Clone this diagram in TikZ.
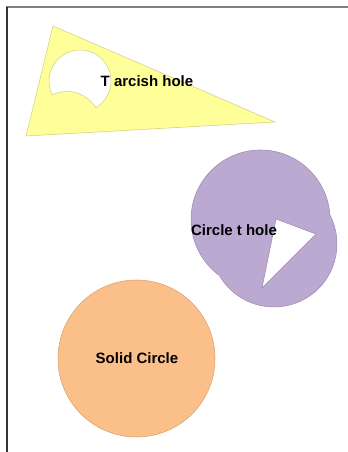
\documentclass[tikz,border=0pt]{standalone}
\usepackage{fontspec}
\setmainfont{Liberation Sans}
\definecolor{jaune}{HTML}{FFFF99}
\definecolor{jauneBord}{HTML}{CFCF84}
\definecolor{mauve}{HTML}{BBA9D1}
\definecolor{mauveBord}{HTML}{9C8BB4}
\definecolor{orange}{HTML}{FBC08A}
\definecolor{orangeBord}{HTML}{D6A071}
\definecolor{cadreHaut}{HTML}{7F7F7F}
\definecolor{cadreGauche}{HTML}{333333}

\begin{document}
\begin{tikzpicture}[x=0.75pt, y=-0.75pt,
    forme/.style={line width=0.4pt, even odd rule},
    etiquette/.style={font=\bfseries\fontsize{11.25}{13}\selectfont, inner sep=0pt}
  ]
  \useasboundingbox (0,0) rectangle (348,452);

  % cadre
  \draw[cadreHaut, line width=1.5pt] (6,7) -- (348,7);
  \draw[cadreGauche, line width=1.5pt] (6.5,7) -- (6.5,452);

  % triangle avec trou
  \filldraw[forme, fill=jaune, draw=jauneBord]
    (53,26) -- (26,136) -- (275,122) -- cycle
    (52.3,94.9) arc[start angle=153.4, end angle=419.5, radius=31]
      arc[start angle=-31.1, end angle=-116, radius=33.5] -- cycle;

  % deux cercles avec trou
  \filldraw[forme, fill=mauve, draw=mauveBord]
    (329.85,214.84) arc[start angle=-3.84, end angle=-233.8, radius=69.5]
      arc[start angle=149.9, end angle=-27.6, radius=63] -- cycle
    (276,219) -- (316,234) -- (262,288) -- cycle;

  % cercle plein
  \filldraw[forme, fill=orange, draw=orangeBord] (136.5,358.5) circle[radius=78.5];

  \node[etiquette] (trou) at (147,81) {T arcish hole};
  \node[etiquette] (cercleTrou) at (234,230) {Circle t hole};
  \node[etiquette] (cercle) at (137,358) {Solid Circle};
\end{tikzpicture}
\end{document}
